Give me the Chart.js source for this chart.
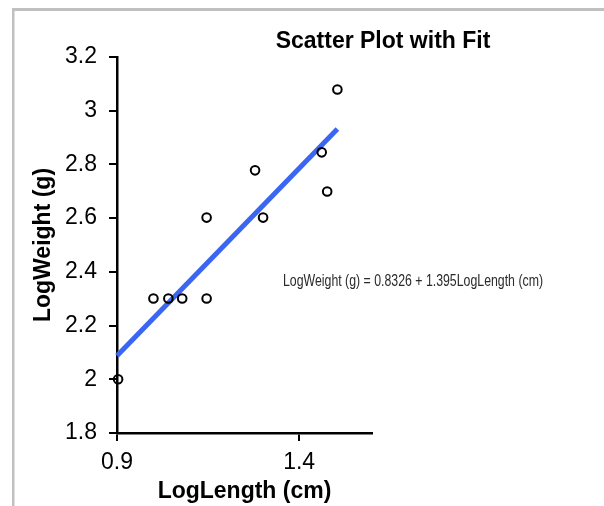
<!DOCTYPE html>
<html>
<head>
<meta charset="utf-8">
<script src="https://cdn.jsdelivr.net/npm/chart.js@4"></script>
<style>
  html, body { margin: 0; padding: 0; background: #fff; }
  #wrap { width: 604px; height: 506px; position: relative; }
</style>
</head>
<body>
<div id="wrap"><canvas id="c" width="604" height="506"></canvas></div>
<script>
// ---- data ----
const logLength = [0.903, 1.0, 1.041, 1.079, 1.146, 1.146, 1.279, 1.301, 1.462, 1.477, 1.505];
const logWeight = [2.0, 2.301, 2.301, 2.301, 2.301, 2.602, 2.778, 2.602, 2.845, 2.699, 3.079];
const fitX = [0.9, 1.505];
const fitY = [2.088, 2.932];
const xTicks = [0.9, 1.4];
const yTicks = [1.8, 2, 2.2, 2.4, 2.6, 2.8, 3, 3.2];
const chartTitle = 'Scatter Plot with Fit';
const xTitle = 'LogLength (cm)';
const yTitle = 'LogWeight (g)';
const equation = 'LogWeight (g) = 0.8326 + 1.395LogLength (cm)';

const FONT = '"Liberation Sans", Arial, Helvetica, sans-serif';

const points = logLength.map((x, i) => ({ x: x, y: logWeight[i] }));
const fitLine = fitX.map((x, i) => ({ x: x, y: fitY[i] }));

const decor = {
  id: 'decor',
  beforeDraw(chart) {
    const ctx = chart.ctx;
    ctx.save();
    ctx.fillStyle = '#c0c0c0';
    ctx.fillRect(12, 8, 592, 3);
    ctx.fillRect(12, 8, 2.5, 498);
    ctx.restore();
  },
  afterDraw(chart) {
    const ctx = chart.ctx;
    ctx.save();
    ctx.fillStyle = '#000';
    ctx.font = 'bold 23px ' + FONT;
    ctx.textAlign = 'center';
    ctx.textBaseline = 'middle';
    ctx.fillText(chartTitle, 383, 42);
    // equation annotation (narrow font)
    ctx.font = '16px ' + FONT;
    ctx.fillStyle = '#2a2a2a';
    ctx.textAlign = 'left';
    ctx.translate(283, 282);
    const w = ctx.measureText(equation).width;
    ctx.scale(260 / w, 1);
    ctx.fillText(equation, 0, 0);
    ctx.restore();
  }
};

new Chart(document.getElementById('c'), {
  type: 'scatter',
  data: {
    datasets: [
      {
        label: 'data',
        data: points,
        showLine: false,
        pointStyle: 'circle',
        pointRadius: 4.3,
        pointHoverRadius: 4.3,
        pointBorderWidth: 2,
        pointBorderColor: '#000',
        pointBackgroundColor: 'rgba(255,255,255,0)',
        clip: false
      },
      {
        label: 'fit',
        data: fitLine,
        showLine: true,
        borderColor: '#3a66f2',
        borderWidth: 5,
        pointRadius: 0,
        borderCapStyle: 'butt',
        clip: false
      }
    ]
  },
  options: {
    responsive: false,
    animation: false,
    events: [],
    layout: { padding: { top: 57, right: 232, left: 0, bottom: 0 } },
    plugins: {
      legend: { display: false },
      tooltip: { enabled: false },
      title: { display: false }
    },
    scales: {
      x: {
        type: 'linear',
        min: 0.9,
        max: 1.6,
        afterBuildTicks(scale) { scale.ticks = xTicks.map(v => ({ value: v })); },
        afterFit(scale) { scale.height = 73; },
        border: { display: true, color: '#000', width: 2.5 },
        grid: { display: true, drawOnChartArea: false, drawTicks: true, tickLength: 8, color: '#000', lineWidth: 2 },
        ticks: {
          color: '#000',
          font: { family: FONT, size: 23 },
          padding: 8,
          maxRotation: 0,
          callback: v => String(Math.round(v * 10) / 10)
        },
        title: {
          display: true,
          text: xTitle,
          color: '#000',
          font: { family: FONT, size: 23, weight: 'bold' },
          padding: { top: 0, bottom: 1 }
        }
      },
      y: {
        type: 'linear',
        min: 1.8,
        max: 3.2,
        afterBuildTicks(scale) { scale.ticks = yTicks.map(v => ({ value: v })); },
        afterFit(scale) { scale.width = 117; },
        border: { display: true, color: '#000', width: 2.5 },
        grid: { display: true, drawOnChartArea: false, drawTicks: true, tickLength: 8, color: '#000', lineWidth: 2 },
        ticks: {
          color: '#000',
          font: { family: FONT, size: 23 },
          padding: 12,
          callback: v => String(Math.round(v * 10) / 10)
        },
        title: {
          display: true,
          text: yTitle,
          color: '#000',
          font: { family: FONT, size: 23, weight: 'bold' },
          padding: { top: 30, bottom: 0 }
        }
      }
    }
  },
  plugins: [decor]
});
</script>
</body>
</html>
